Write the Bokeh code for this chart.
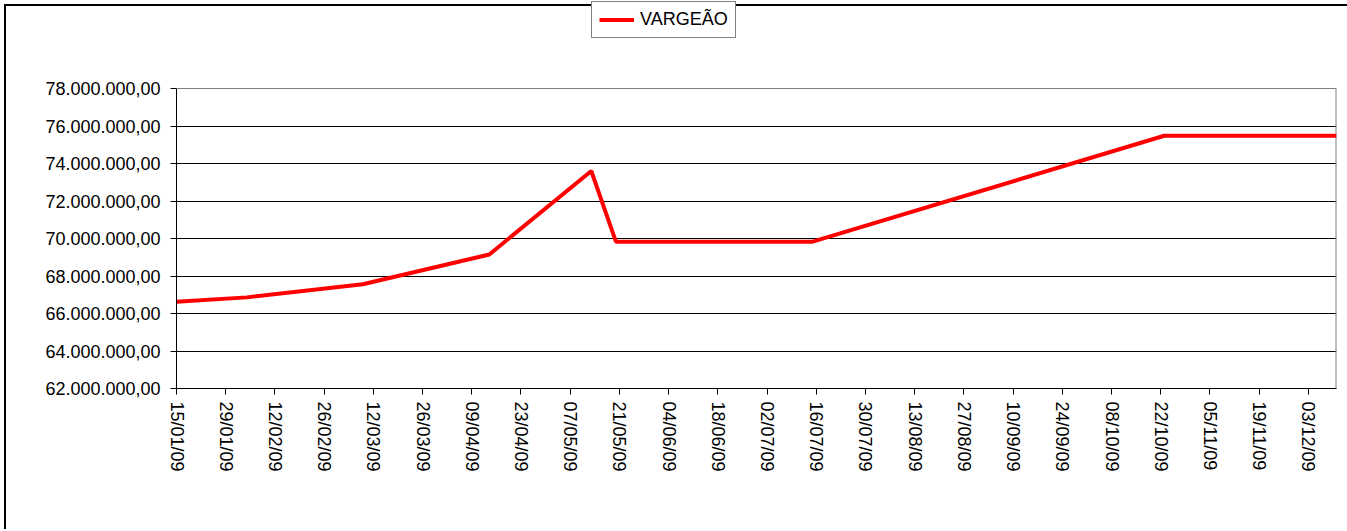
from datetime import datetime
from bokeh.plotting import figure
from bokeh.models import (Range1d, FixedTicker, DatetimeTickFormatter, CustomJSTickFormatter,
                          Legend, LegendItem, ColumnDataSource, Span)
from bokeh.embed import file_html
from bokeh.resources import INLINE

series_name = "VARGEÃO"
dates = ["15/01/09", "04/02/09", "09/03/09", "14/04/09", "13/05/09",
         "20/05/09", "15/07/09", "23/10/09", "11/12/09"]
values = [66_630_000, 66_860_000, 67_560_000, 69_150_000, 73_600_000,
          69_830_000, 69_830_000, 75_480_000, 75_480_000]
tick_labels = ["15/01/09", "29/01/09", "12/02/09", "26/02/09", "12/03/09", "26/03/09",
               "09/04/09", "23/04/09", "07/05/09", "21/05/09", "04/06/09", "18/06/09",
               "02/07/09", "16/07/09", "30/07/09", "13/08/09", "27/08/09", "10/09/09",
               "24/09/09", "08/10/09", "22/10/09", "05/11/09", "19/11/09", "03/12/09"]
y_ticks = [62_000_000, 64_000_000, 66_000_000, 68_000_000, 70_000_000,
           72_000_000, 74_000_000, 76_000_000, 78_000_000]
x_start, x_end = "15/01/09", "11/12/09"


def to_dt(s):
    return datetime.strptime(s, "%d/%m/%y")


def to_ms(s):
    return (to_dt(s) - datetime(1970, 1, 1)).total_seconds() * 1000.0


FONT = "Liberation Sans"

# layout (pixels)
W, H = 1347, 529
FRAME_L, FRAME_R, FRAME_B = 176, 1336, 388
PLOT_TOP = 88  # pixel row of the top of the value axis
y_lo, y_hi = y_ticks[0], y_ticks[-1]
y_top = y_hi + (y_hi - y_lo) * PLOT_TOP / (FRAME_B - PLOT_TOP)

src = ColumnDataSource(dict(x=[to_dt(d) for d in dates], y=values))

# outer chart border: left and top edges only (right/bottom lie outside the window)
border_css = {
    "background-image": "linear-gradient(#000000, #000000), linear-gradient(#000000, #000000)",
    "background-position": "4px 4px, 4px 4px",
    "background-size": "2px 100%, 100% 2px",
    "background-repeat": "no-repeat",
}

p = figure(width=W, height=H, x_axis_type="datetime",
           x_range=Range1d(to_dt(x_start), to_dt(x_end)),
           y_range=Range1d(y_lo, y_top),
           output_backend="svg", toolbar_location=None,
           min_border_left=FRAME_L, min_border_right=W - FRAME_R,
           min_border_top=0, min_border_bottom=H - FRAME_B,
           styles=border_css)
p.border_fill_color = None
p.background_fill_color = None
p.outline_line_color = None

# plot-area border (grey top and right)
p.add_layout(Span(location=y_hi, dimension="width", line_color="#808080", line_width=1))
p.segment(x0=[to_dt(x_end)], y0=[y_lo], x1=[to_dt(x_end)], y1=[y_hi],
          line_color="#808080", line_width=2)

r = p.line("x", "y", source=src, line_color="#FF0000", line_width=4)

# axes
p.xaxis.ticker = FixedTicker(ticks=[to_ms(t) for t in tick_labels])
p.xaxis.formatter = DatetimeTickFormatter(days="%d/%m/%y", months="%d/%m/%y",
                                          years="%d/%m/%y", hours="%d/%m/%y")
p.xaxis.major_label_orientation = "vertical"
p.yaxis.ticker = FixedTicker(ticks=y_ticks)
p.yaxis.bounds = (y_lo, y_hi)
p.yaxis.formatter = CustomJSTickFormatter(code="""
    const s = tick.toFixed(2);
    const parts = s.split(".");
    return parts[0].replace(/\\B(?=(\\d{3})+(?!\\d))/g, ".") + "," + parts[1];
""")
for ax in (p.xaxis[0], p.yaxis[0]):
    ax.major_label_text_font = FONT
    ax.major_label_text_font_size = "18px"
    ax.major_label_text_color = "#000000"
    ax.axis_line_color = "#000000"
    ax.axis_line_width = 1
    ax.major_tick_line_color = "#000000"
    ax.major_tick_line_width = 1
    ax.major_tick_in = 0
    ax.major_tick_out = 6
    ax.minor_tick_line_color = None
p.yaxis.major_label_standoff = 10
p.xaxis.major_label_standoff = 7

p.xgrid.grid_line_color = None
p.ygrid.ticker = FixedTicker(ticks=y_ticks[1:-1])
p.ygrid.grid_line_color = "#000000"
p.ygrid.grid_line_width = 1

legend = Legend(items=[LegendItem(label=series_name, renderers=[r])],
                location=(415, 350), orientation="horizontal",
                border_line_color="#000000", border_line_width=1,
                background_fill_color="white", background_fill_alpha=1.0,
                label_text_font=FONT, label_text_font_size="18px",
                label_text_color="#000000",
                padding=7, margin=0, spacing=0, label_standoff=6,
                glyph_width=35, glyph_height=19, label_height=19)
p.add_layout(legend, "center")

open("out.html", "w").write(file_html(p, INLINE))
